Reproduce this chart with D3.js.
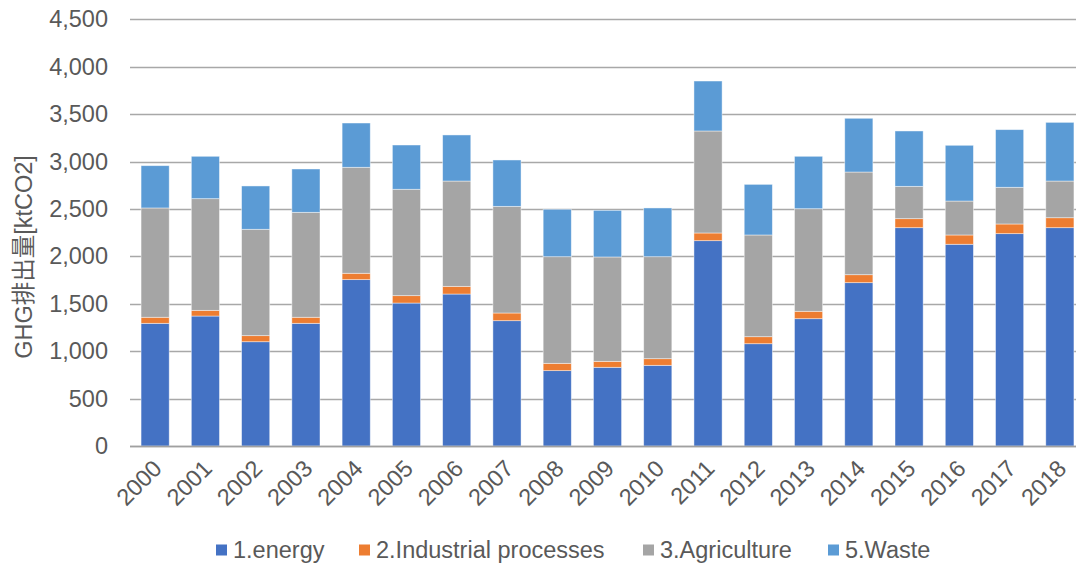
<!DOCTYPE html>
<html>
<head>
<meta charset="utf-8">
<script src="https://cdn.jsdelivr.net/npm/d3@7"></script>
<style>
  body { margin: 0; background: #fff; }
  svg { display: block; font-family: Arial, "Liberation Sans", "Noto Sans CJK JP", sans-serif; }
</style>
</head>
<body>
<svg id="chart"></svg>
<script>
'use strict';

// data (ktCO2)
var years = ['2000','2001','2002','2003','2004','2005','2006','2007','2008','2009',
             '2010','2011','2012','2013','2014','2015','2016','2017','2018'];
var energy      = [1294,1371,1100,1294,1755,1508,1603,1322, 795, 830, 851,2166,1079,1343,1723,2303,2128,2240,2303];
var industrial  = [  64,  60,  64,  64,  67,  78,  81,  81,  77,  63,  70,  81,  74,  78,  84,  95,  98, 102, 105];
var agriculture = [1153,1178,1122,1107,1118,1122,1111,1125,1125,1101,1076,1076,1073,1082,1083, 341, 358, 387, 387];
var waste       = [ 446, 447, 457, 457, 467, 467, 486, 489, 500, 492, 514, 527, 534, 553, 567, 584, 588, 608, 619];
var seriesNames = ['1.energy','2.Industrial processes','3.Agriculture','5.Waste'];
var yTicks = [0,500,1000,1500,2000,2500,3000,3500,4000,4500];

var config = {
    width: 1076,
    height: 567,
    left: 130,
    right: 1085,
    top: 19.4,
    bottom: 446,
    fontSize: '23.5px',
    colors: ['#4472C4','#ED7D31','#A5A5A5','#5B9BD5'],
    text: '#595959'
};

var rows = years.map(function(y, i) {
    return { year: y, s0: energy[i], s1: industrial[i], s2: agriculture[i], s3: waste[i] };
});
var keys = ['s0','s1','s2','s3'];
var stacked = d3.stack().keys(keys)(rows);

var svg = d3.select('#chart')
    .attr('width', config.width)
    .attr('height', config.height);

var x = d3.scaleBand()
    .domain(years)
    .range([config.left, config.right])
    .paddingInner(0.44)
    .paddingOuter(0.22);

var y = d3.scaleLinear()
    .domain([0, 4500])
    .range([config.bottom, config.top]);

// gridlines
svg.append('g')
    .selectAll('line')
    .data(yTicks)
    .enter()
    .append('line')
    .attr('x1', config.left)
    .attr('x2', config.right)
    .attr('y1', function(d) { return Math.round(y(d)) + 0.5; })
    .attr('y2', function(d) { return Math.round(y(d)) + 0.5; })
    .attr('stroke', '#a8a8a8')
    .attr('stroke-width', 1.3);

// y labels
var yAxis = d3.axisLeft(y).tickValues(yTicks).tickSize(0).tickPadding(22)
    .tickFormat(d3.format(','));
var gy = svg.append('g')
    .attr('transform', 'translate(' + config.left + ',0)')
    .call(yAxis);
gy.select('.domain').remove();
gy.selectAll('text')
    .attr('fill', config.text)
    .style('font-size', config.fontSize);

// bars
svg.append('g')
    .selectAll('g')
    .data(stacked)
    .enter()
    .append('g')
    .attr('fill', function(d, i) { return config.colors[i]; })
    .selectAll('rect')
    .data(function(d) { return d; })
    .enter()
    .append('rect')
    .attr('x', function(d) { return x(d.data.year); })
    .attr('width', x.bandwidth())
    .attr('y', function(d) { return y(d[1]); })
    .attr('height', function(d) { return y(d[0]) - y(d[1]); })
    .attr('stroke', 'rgba(255,255,255,0.55)')
    .attr('stroke-width', 0.8);

// x axis
var xAxis = d3.axisBottom(x).tickSize(0).tickPadding(0);
var gx = svg.append('g')
    .attr('transform', 'translate(0,' + config.bottom + ')')
    .call(xAxis);
gx.select('.domain')
    .attr('d', 'M' + config.left + ',0.5H' + config.right)
    .attr('stroke', '#a0a0a0')
    .attr('stroke-width', 1.3);
gx.selectAll('.tick text')
    .attr('fill', config.text)
    .style('font-size', config.fontSize)
    .attr('text-anchor', 'end')
    .attr('dy', null)
    .attr('y', 0)
    .attr('transform', 'translate(8,24) rotate(-45)');

// y axis title
svg.append('text')
    .attr('transform', 'translate(32,257) rotate(-90)')
    .attr('text-anchor', 'middle')
    .attr('fill', config.text)
    .style('font-size', config.fontSize)
    .text('GHG排出量[ktCO2]');

// legend
var legendX = [216, 359, 643, 828];
var legend = svg.append('g')
    .selectAll('g')
    .data(seriesNames)
    .enter()
    .append('g')
    .attr('transform', function(d, i) { return 'translate(' + legendX[i] + ',550)'; });
legend.append('rect')
    .attr('x', 0)
    .attr('y', -5.5)
    .attr('width', 11)
    .attr('height', 11)
    .attr('fill', function(d, i) { return config.colors[i]; });
legend.append('text')
    .attr('x', 17)
    .attr('y', 0)
    .attr('dy', '0.36em')
    .attr('fill', config.text)
    .style('font-size', config.fontSize)
    .text(function(d) { return d; });
</script>
</body>
</html>
